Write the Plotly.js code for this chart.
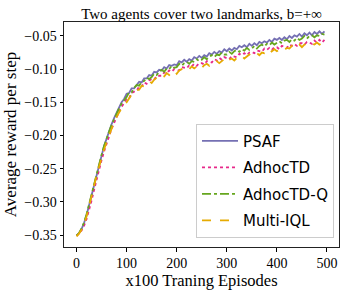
<!DOCTYPE html>
<html>
<head>
<meta charset="utf-8">
<script src="https://cdn.plot.ly/plotly-3.0.1.min.js"></script>
<style>html,body{margin:0;padding:0;background:#fff;}#chart{width:346px;height:291px;}</style>
</head>
<body>
<div id="chart"></div>
<script>
const seriesNames = ["PSAF", "AdhocTD", "AdhocTD-Q", "Multi-IQL"];
const episodes = Array.from({length: 100}, (_, i) => i * 5);

const psaf = [-0.351,-0.347,-0.341,-0.332,-0.320,-0.305,-0.289,-0.272,-0.257,-0.242,
 -0.229,-0.216,-0.205,-0.193,-0.183,-0.174,-0.165,-0.158,-0.150,-0.145,
 -0.137,-0.136,-0.129,-0.129,-0.123,-0.119,-0.120,-0.114,-0.114,-0.109,
 -0.110,-0.104,-0.105,-0.101,-0.102,-0.097,-0.099,-0.094,-0.095,-0.093,
 -0.094,-0.088,-0.090,-0.086,-0.089,-0.085,-0.087,-0.082,-0.084,-0.080,
 -0.083,-0.079,-0.081,-0.076,-0.078,-0.074,-0.077,-0.073,-0.075,-0.070,
 -0.073,-0.069,-0.072,-0.068,-0.070,-0.065,-0.067,-0.064,-0.067,-0.062,
 -0.065,-0.061,-0.064,-0.059,-0.061,-0.058,-0.060,-0.056,-0.059,-0.054,
 -0.056,-0.053,-0.056,-0.052,-0.055,-0.050,-0.053,-0.049,-0.051,-0.047,
 -0.051,-0.046,-0.049,-0.045,-0.049,-0.044,-0.047,-0.043,-0.047,-0.043];

const adhocTD = [-0.351,-0.348,-0.343,-0.336,-0.326,-0.313,-0.298,-0.282,-0.266,-0.251,
 -0.237,-0.224,-0.212,-0.201,-0.190,-0.181,-0.172,-0.164,-0.157,-0.151,
 -0.145,-0.144,-0.136,-0.134,-0.133,-0.126,-0.126,-0.120,-0.122,-0.117,
 -0.115,-0.116,-0.110,-0.110,-0.110,-0.105,-0.106,-0.102,-0.104,-0.100,
 -0.101,-0.102,-0.097,-0.098,-0.099,-0.094,-0.096,-0.092,-0.095,-0.091,
 -0.091,-0.093,-0.088,-0.089,-0.090,-0.085,-0.087,-0.083,-0.086,-0.082,
 -0.083,-0.085,-0.080,-0.081,-0.082,-0.077,-0.079,-0.076,-0.079,-0.075,
 -0.074,-0.076,-0.072,-0.073,-0.074,-0.069,-0.071,-0.068,-0.071,-0.067,
 -0.067,-0.070,-0.065,-0.066,-0.068,-0.063,-0.065,-0.062,-0.065,-0.061,
 -0.061,-0.063,-0.059,-0.060,-0.062,-0.057,-0.060,-0.056,-0.060,-0.056];

const adhocTDQ = [-0.351,-0.347,-0.340,-0.331,-0.319,-0.304,-0.288,-0.272,-0.256,-0.241,
 -0.229,-0.216,-0.204,-0.194,-0.184,-0.175,-0.167,-0.159,-0.152,-0.147,
 -0.142,-0.135,-0.135,-0.128,-0.124,-0.125,-0.119,-0.118,-0.113,-0.115,
 -0.112,-0.107,-0.109,-0.104,-0.101,-0.104,-0.099,-0.100,-0.095,-0.098,
 -0.097,-0.092,-0.095,-0.091,-0.089,-0.092,-0.088,-0.089,-0.085,-0.088,
 -0.086,-0.082,-0.085,-0.081,-0.079,-0.082,-0.078,-0.079,-0.075,-0.078,
 -0.078,-0.074,-0.077,-0.073,-0.071,-0.074,-0.070,-0.072,-0.068,-0.071,
 -0.069,-0.065,-0.069,-0.065,-0.063,-0.066,-0.062,-0.064,-0.060,-0.063,
 -0.061,-0.058,-0.061,-0.057,-0.056,-0.059,-0.055,-0.057,-0.053,-0.056,
 -0.054,-0.050,-0.054,-0.050,-0.049,-0.052,-0.049,-0.050,-0.047,-0.048];

const multiIQL = [-0.352,-0.348,-0.342,-0.334,-0.322,-0.308,-0.292,-0.276,-0.260,-0.246,
 -0.233,-0.221,-0.210,-0.199,-0.189,-0.180,-0.172,-0.165,-0.158,-0.152,
 -0.150,-0.143,-0.138,-0.138,-0.132,-0.131,-0.125,-0.126,-0.122,-0.118,
 -0.121,-0.116,-0.113,-0.115,-0.110,-0.111,-0.106,-0.109,-0.105,-0.102,
 -0.107,-0.102,-0.100,-0.103,-0.099,-0.100,-0.096,-0.099,-0.096,-0.093,
 -0.098,-0.094,-0.092,-0.095,-0.091,-0.092,-0.088,-0.091,-0.088,-0.085,
 -0.090,-0.086,-0.084,-0.087,-0.083,-0.084,-0.080,-0.084,-0.081,-0.078,
 -0.081,-0.077,-0.076,-0.079,-0.075,-0.076,-0.072,-0.076,-0.073,-0.070,
 -0.073,-0.070,-0.068,-0.071,-0.068,-0.069,-0.065,-0.069,-0.066,-0.063,
 -0.067,-0.063,-0.062,-0.065,-0.062,-0.063,-0.060,-0.063,-0.061,-0.058];

const xTicks = [0, 100, 200, 300, 400, 500];
const yTicks = [-0.35, -0.30, -0.25, -0.20, -0.15, -0.10, -0.05];

const values = [psaf, adhocTD, adhocTDQ, multiIQL];
const colors = ["#7570b3", "#e7298a", "#66a61e", "#e6ab02"];
const dashes = ["solid", "dot", "dashdot", "dash"];

const traces = seriesNames.map((name, i) => ({
  x: episodes, y: values[i], name: name, type: "scatter", mode: "lines",
  legendgroup: "g" + i,
  line: {color: colors[i], width: 1.8, dash: dashes[i]}
}));

const serif = "Liberation Serif, Times New Roman, serif";
const layout = {
  width: 346, height: 291,
  margin: {l: 64, r: 7, t: 22, b: 44},
  paper_bgcolor: "#fff", plot_bgcolor: "#fff",
  title: {text: "Two agents cover two landmarks, b=+∞", font: {family: serif, size: 15, color: "#000"},
          x: 0.5, xref: "paper", xanchor: "center", y: 1, yref: "paper", yanchor: "bottom", pad: {b: 3}},
  xaxis: {range: [-25, 524], tickvals: xTicks, ticks: "outside", ticklen: 3.5, tickcolor: "#000",
          showgrid: false, zeroline: false, showline: true, mirror: true, linecolor: "#222", linewidth: 1,
          tickfont: {family: serif, size: 14, color: "#000"},
          title: {text: "x100 Traning Episodes", font: {family: serif, size: 16.5, color: "#000"}, standoff: 3}},
  yaxis: {range: [-0.368, -0.029], tickvals: yTicks, tickformat: ".2f", ticks: "outside", ticklen: 3.5, tickcolor: "#000",
          showgrid: false, zeroline: false, showline: true, mirror: true, linecolor: "#222", linewidth: 1,
          tickfont: {family: serif, size: 14, color: "#000"},
          title: {text: "Average reward per step", font: {family: serif, size: 17, color: "#000"}, standoff: 3}},
  showlegend: true,
  legend: {x: 0.48, y: 0.042, xanchor: "left", yanchor: "bottom", bgcolor: "rgba(255,255,255,0.85)",
           bordercolor: "#cccccc", borderwidth: 1, tracegroupgap: 4, itemwidth: 36,
           font: {family: "DejaVu Sans, sans-serif", size: 15, color: "#000"}}
};

Plotly.newPlot("chart", traces, layout, {staticPlot: true, displayModeBar: false});
</script>
</body>
</html>
